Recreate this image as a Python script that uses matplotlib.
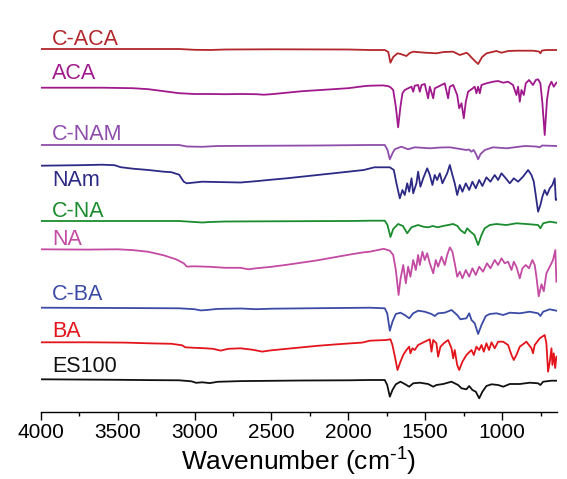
import matplotlib
matplotlib.use("Agg")
import matplotlib.pyplot as plt
from matplotlib.ticker import MultipleLocator

plt.rcParams['font.family'] = ['Liberation Sans', 'DejaVu Sans']
plt.rcParams['mathtext.default'] = 'regular'

# ---------------- data (wavenumber cm-1, relative transmittance a.u.) ----------------
labels = ["C-ACA", "ACA", "C-NAM", "NAm", "C-NA", "NA", "C-BA", "BA", "ES100"]

C_ACA = [(4000, 0), (3100, 0), (3000, -0.8), (2900, -1), (2800, -0.5), (2500, -0.3), (2000, -0.5),
         (1860, -1), (1763, -1), (1740, -3), (1726, -13.7), (1708, -8), (1680, -4.3), (1660, -5),
         (1622, -7), (1600, -4), (1578, -2.7), (1500, -3.7), (1427, -4.3), (1380, -3), (1318, -2.7),
         (1275, -6), (1245, -4.5), (1232, -3.7), (1220, -5), (1190, -10), (1156, -15), (1130, -8),
         (1101, -4.3), (1037, -2), (1004, -3.7), (960, -2), (900, -1.7), (800, -1.7), (760, -2.5),
         (751, -4.3), (740, -1.5), (712, -1), (647, -1)]

ACA = [(4000, 0), (3600, 0), (3400, -0.5), (3300, -1.5), (3200, -3.5), (3100, -5.5), (3000, -6.3),
       (2900, -6.3), (2800, -6.5), (2700, -6.3), (2600, -6.5), (2550, -7), (2500, -6.5), (2400, -5),
       (2300, -3.5), (2200, -2.5), (2100, -1.5), (2000, -0.5), (1900, 1.5), (1860, 2.0), (1773, 2.3),
       (1740, 1.5), (1726, 0.5), (1708, -2.3), (1691, -19), (1676, -39.6), (1661, -19), (1648, -5.6),
       (1633, -2.3), (1611, -0.6), (1589, 1.0), (1578, -4), (1568, 2.0), (1546, 2.7), (1535, -4),
       (1524, 2.7), (1503, 3.7), (1481, -10.6), (1470, 1.0), (1448, -10.6), (1438, -0.6), (1416, 1.0),
       (1394, 2.7), (1373, 4.4), (1351, -10.6), (1340, 1.0), (1318, 2.7), (1292, -7.3), (1279, -20.6),
       (1264, -15.6), (1249, -30.6), (1236, -14), (1221, -4), (1199, -1.6), (1178, 1.0), (1167, -5.6),
       (1156, 1.0), (1145, -5.6), (1134, 2.7), (1102, 4.4), (1058, 6.0), (1026, 6.7), (993, 5.0),
       (961, 6.0), (929, 2.7), (907, -7.3), (896, 1.0), (885, -14), (874, -2.3), (859, -7.3),
       (846, 4.4), (825, 7.7), (799, 2.7), (781, 7.7), (766, 8.4), (751, 4.4), (738, -15.6),
       (723, -47.3), (708, -12), (695, 1.0), (679, 6.0), (664, 1.0), (647, 5.0)]

C_NAM = [(4000, 0), (3100, 0), (3050, -1.5), (2950, -1.8), (2850, -1), (2600, -0.8), (2200, -0.5),
         (1860, 0), (1763, 0), (1745, -5), (1730, -14.3), (1712, -8), (1698, -4.3), (1655, -1.7),
         (1611, -4.3), (1568, -2.3), (1470, -3.3), (1400, -2.5), (1340, -2.3), (1232, -5),
         (1215, -4.5), (1200, -6.7), (1185, -5), (1170, -9), (1156, -14.3), (1140, -9), (1112, -5),
         (1060, -2.3), (970, -3.3), (853, -1), (780, -1.5), (755, -2.3), (740, -0.5), (647, -1)]

NAM = [(4000, 0), (3750, 0.5), (3600, 1), (3520, 0.5), (3480, -1.5), (3400, -3), (3360, -3.5),
       (3300, -4.3), (3200, -6), (3150, -6.5), (3100, -9), (3070, -16), (3050, -17.6), (2950, -16),
       (2800, -16.5), (2700, -16.8), (2600, -15.5), (2500, -14), (2400, -12.6), (2200, -9.3),
       (2000, -6), (1900, -4.3), (1830, -1.6), (1730, -1.6), (1704, -4.3), (1687, -17.6),
       (1665, -32.6), (1648, -24.3), (1633, -29.3), (1617, -17.6), (1604, -26), (1589, -12.6),
       (1578, -27.6), (1557, -17.6), (1546, -6), (1531, -21), (1513, -12.6), (1487, -2.6),
       (1470, -9.3), (1453, -19.3), (1438, -9.3), (1422, -14.3), (1405, -7.6), (1388, -17.6),
       (1373, -12.6), (1357, -7.6), (1340, 0.7), (1323, -9.3), (1308, -17.6), (1292, -29.3),
       (1275, -19.3), (1258, -26), (1236, -17.6), (1214, -24.3), (1193, -16), (1171, -22.6),
       (1149, -14.3), (1128, -20.3), (1102, -11.6), (1076, -16), (1048, -9.3), (1026, -14.3),
       (1004, -7.6), (976, -12.6), (950, -17.6), (924, -12.6), (896, -16), (864, -11), (831, -4.3),
       (809, -9.3), (794, -16), (783, -27.6), (766, -46), (751, -39.3), (738, -31), (723, -24.3),
       (708, -29.3), (690, -22.6), (673, -19.3), (658, -12.6), (651, -34.3), (647, -34)]

C_NA = [(4000, 0), (3100, 0), (3000, -1), (2950, -1.5), (2900, -1), (2800, -0.5), (2500, -0.3),
        (2000, 0), (1860, 0.3), (1763, 0.3), (1745, -4), (1726, -16), (1708, -8), (1676, -3),
        (1645, -5), (1617, -12.3), (1589, -6.3), (1546, -4), (1513, -5.7), (1481, -6.3), (1450, -5),
        (1420, -6.3), (1383, -5), (1318, -3), (1290, -5), (1271, -9), (1243, -12.3), (1227, -7.3),
        (1210, -10), (1180, -14), (1156, -24), (1134, -14), (1113, -7.3), (1080, -4), (1037, -3),
        (972, -4), (907, -2.3), (842, -3), (766, -4), (751, -7.3), (733, -2.3), (690, -0.7),
        (647, -1.7)]

NA = [(4000, 0), (3700, -0.3), (3500, 0), (3400, -0.8), (3300, -2.5), (3200, -6), (3120, -10),
      (3070, -14), (3050, -17.3), (3000, -17), (2900, -17.5), (2800, -18.5), (2700, -18.5),
      (2650, -20), (2600, -19), (2500, -17.5), (2400, -15.5), (2200, -11), (2000, -5.5), (1900, -3),
      (1860, -2.4), (1770, 0.5), (1730, -1.4), (1708, -5.7), (1691, -20.7), (1673, -45.7),
      (1661, -30), (1643, -15.7), (1626, -34), (1611, -17.4), (1596, -27.4), (1578, -10.7),
      (1561, -20.7), (1546, -5.7), (1535, -15.7), (1518, -2.4), (1503, -10.7), (1487, -4),
      (1470, -14), (1448, -24), (1431, -10.7), (1416, -17.4), (1394, -7.4), (1373, -15.7),
      (1357, -5.7), (1340, 1.9), (1323, -2.4), (1308, -14), (1292, -27.4), (1275, -22.4),
      (1258, -29), (1236, -20.7), (1214, -27.4), (1193, -19), (1171, -25.7), (1149, -17.4),
      (1124, -22.4), (1098, -14), (1076, -19), (1048, -10.7), (1026, -15.7), (1004, -9), (983, -14),
      (961, -12.4), (939, -20.7), (924, -12.4), (907, -17.4), (885, -29), (868, -19), (846, -15.7),
      (825, -19), (803, -10.7), (788, -15.7), (777, -27.4), (762, -47), (744, -35), (729, -42),
      (712, -24), (690, -17.4), (669, -10.7), (654, -0.7), (647, -32.4)]

C_BA = [(4000, 0), (3500, -0.3), (3100, -0.6), (3000, -1.5), (2960, -2.7), (2920, -2.3),
        (2850, -1.2), (2700, -0.8), (2600, -1.5), (2500, -1), (2200, -0.5), (1860, 0), (1763, -0.6),
        (1747, -5.6), (1730, -23), (1713, -14), (1691, -6.3), (1661, -5), (1633, -7.3), (1604, -10.6),
        (1578, -5.6), (1546, -3), (1503, -4), (1459, -6.3), (1438, -8.3), (1416, -5.6), (1373, -5),
        (1329, -2.3), (1292, -7.3), (1271, -11.6), (1232, -10.6), (1214, -5.6), (1199, -12.3),
        (1178, -15.6), (1156, -26.3), (1134, -17.3), (1106, -8.3), (1080, -6.3), (1037, -5.6),
        (993, -7.3), (950, -5), (885, -5.6), (820, -4), (766, -5.6), (751, -8.3), (733, -4),
        (690, -1.6), (647, -3)]

BA = [(4000, 0), (3700, 0), (3450, -0.3), (3300, -1), (3150, -1.5), (3080, -3), (3060, -5),
      (3000, -5.5), (2950, -5.8), (2880, -6.5), (2830, -8.3), (2780, -6.5), (2700, -6), (2620, -7.5),
      (2560, -9.3), (2500, -8), (2400, -6.5), (2300, -5), (2200, -3.5), (2100, -2.3), (2000, -1.2),
      (1910, -0.3), (1860, 1.6), (1752, 2.3), (1726, 3), (1713, -2.7), (1697, -14.4), (1680, -27.7),
      (1661, -19.4), (1643, -12.7), (1622, -7.7), (1604, -4.4), (1596, -11), (1583, -6), (1568, -7.7),
      (1546, -2.7), (1503, 0.6), (1470, 3), (1459, -9.4), (1448, 2.3), (1427, -1), (1416, -14.4),
      (1401, -4.4), (1379, -1), (1351, 2.3), (1329, -6), (1318, -16), (1308, -7.7), (1292, -22.7),
      (1279, -27.7), (1258, -19.4), (1232, -12.7), (1199, -7.7), (1184, -12.7), (1167, -4.4),
      (1149, -7.7), (1134, -2.7), (1119, -9.4), (1102, -1), (1085, -7.7), (1069, 0), (1048, -6),
      (1026, 0.6), (993, 0.6), (961, -2.7), (939, -12.7), (924, -17.7), (907, -12.7), (885, -4.4),
      (842, 0.6), (809, -6), (799, -11), (788, -2.7), (755, 4), (723, 7.3), (712, -1), (701, -29.4),
      (690, -19.4), (679, -6), (673, -22.7), (664, -11), (655, -25.7), (647, -14.4)]

ES100 = [(4000, 0), (3700, -0.3), (3500, -0.5), (3300, -0.8), (3100, -1), (3020, -2), (2990, -3.5),
         (2950, -3), (2900, -3.8), (2850, -2.5), (2700, -1.8), (2500, -1.5), (2300, -1.2), (2000, -1),
         (1860, -0.7), (1763, -0.7), (1747, -5.7), (1730, -17.4), (1713, -10.7), (1691, -5),
         (1661, -2.4), (1633, -4.7), (1604, -7.4), (1578, -4), (1535, -3.4), (1481, -4.7),
         (1448, -7.4), (1427, -5.7), (1383, -4.7), (1329, -2.4), (1286, -5.7), (1264, -9),
         (1232, -10), (1214, -6.7), (1193, -10.7), (1171, -12.4), (1149, -19), (1128, -12.4),
         (1102, -6.7), (1069, -5), (1026, -5.7), (993, -7.4), (950, -4.7), (885, -4.7), (820, -3.4),
         (766, -4), (751, -5.7), (733, -2.4), (679, -1.4), (647, -1.4)]

spectra = [C_ACA, ACA, C_NAM, NAM, C_NA, NA, C_BA, BA, ES100]

# ---------------- styling ----------------
colors = ["#B3262B", "#A0198C", "#8E4DAA", "#2D2A86", "#1A8C2E",
          "#C44BA3", "#3B4BA6", "#E3151C", "#111111"]
offsets = [363.3, 324.6, 267.3, 246.6, 191.3, 163.0, 104.6, 70.0, 33.0]
label_y = [367.3, 333.0, 272.3, 226.3, 195.3, 167.3, 112.3, 75.3, 40.3]

W, H = 567, 479
fig = plt.figure(figsize=(W / 100, H / 100), dpi=100)
ax = fig.add_axes([40.7 / W, (H - 412.3) / H, 516 / W, 412.3 / H])

for spec, col, off in zip(spectra, colors, offsets):
    xs = [p[0] for p in spec]
    ys = [p[1] + off for p in spec]
    ax.plot(xs, ys, color=col, lw=1.3, solid_joinstyle='round')

for lab, col, ly in zip(labels, colors, label_y):
    ax.text(3925, ly, lab, color=col, fontsize=15.5, va='baseline', ha='left')

ax.set_xlim(4000, 645)
ax.set_ylim(0, 412.3)
for s in ['left', 'right', 'top']:
    ax.spines[s].set_visible(False)
ax.spines['bottom'].set_linewidth(1.0)
ax.set_yticks([])
ax.xaxis.set_major_locator(MultipleLocator(500))
ax.xaxis.set_minor_locator(MultipleLocator(250))
ax.tick_params(axis='x', which='major', direction='out', length=5.5, width=1.0,
               labelsize=15, pad=2)
ax.tick_params(axis='x', which='minor', direction='out', length=3, width=1.0)
ax.set_xlabel(r'Wavenumber (cm$^{\text{-}1}$)', fontsize=19, labelpad=3)

fig.savefig('out.png', dpi=100)
